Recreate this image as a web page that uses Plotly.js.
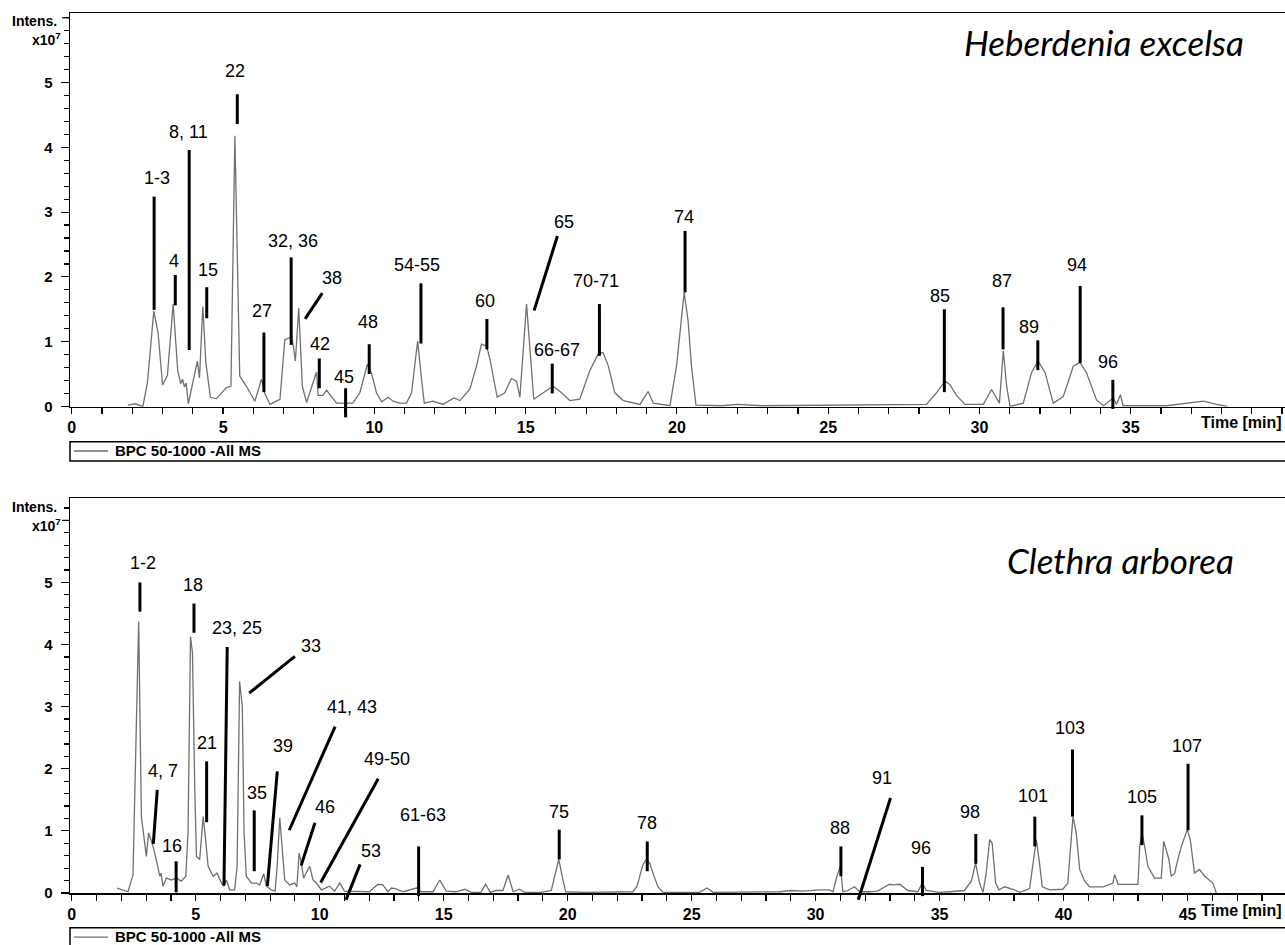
<!DOCTYPE html>
<html>
<head>
<meta charset="utf-8">
<script src="https://cdn.plot.ly/plotly-3.0.1.min.js"></script>
<style>html,body{margin:0;padding:0;background:#fff;}#chart{width:1285px;height:945px;}</style>
</head>
<body>
<div id="chart"></div>
<script>
// ---------- Heberdenia excelsa (top) ----------
const timeHE = [1.85,2.1,2.35,2.5,2.71,2.85,3.0,3.16,3.35,3.5,3.6,3.66,3.72,3.78,3.85,4.15,4.22,4.33,4.43,4.58,4.78,5.11,5.26,5.39,5.55,5.77,6.05,6.27,6.38,6.55,6.88,7.04,7.21,7.3,7.39,7.5,7.62,7.76,8.09,8.14,8.3,8.42,8.58,8.75,9.29,9.52,9.77,9.9,10.07,10.24,10.46,10.62,10.84,11.06,11.23,11.43,11.56,11.65,11.94,12.27,12.63,12.83,13.16,13.38,13.54,13.71,13.82,13.93,14.06,14.31,14.53,14.7,14.81,15.03,15.14,15.27,15.58,15.91,16.19,16.46,16.79,17.12,17.4,17.56,17.73,17.95,18.23,18.78,19.05,19.22,19.77,19.99,20.24,20.37,20.48,20.63,21.5,22.0,22.8,26.7,28.25,28.58,28.86,29.02,29.24,29.52,30.13,30.4,30.55,30.66,30.79,30.9,31.01,31.45,31.72,31.94,32.17,32.44,32.77,33.1,33.32,33.54,33.87,34.1,34.42,34.53,34.66,34.75,36.19,36.8,37.4,37.84,38.2];
const intensHE = [0.02,0.04,0.0,0.37,1.47,1.14,0.33,0.48,1.58,0.55,0.35,0.42,0.3,0.36,0.04,0.70,0.44,1.54,0.68,0.14,0.12,0.29,0.31,4.18,0.47,0.31,0.08,0.42,0.2,0.03,0.11,1.03,1.06,1.0,0.7,1.52,0.31,0.06,0.53,0.17,0.17,0.25,0.15,0.05,0.05,0.21,0.65,0.52,0.21,0.07,0.14,0.08,0.05,0.05,0.21,1.01,0.42,0.05,0.08,0.03,0.13,0.09,0.27,0.63,0.96,0.93,0.73,0.45,0.14,0.21,0.43,0.39,0.14,1.58,0.93,0.11,0.21,0.31,0.21,0.09,0.11,0.55,0.81,0.83,0.63,0.21,0.09,0.03,0.23,0.05,0.01,0.63,1.76,1.32,0.63,0.02,0.01,0.03,0.01,0.03,0.03,0.21,0.39,0.34,0.17,0.03,0.03,0.26,0.13,0.05,0.86,0.31,0.0,0.05,0.52,0.70,0.52,0.05,0.15,0.62,0.68,0.52,0.1,0.01,0.13,0.03,0.18,0.01,0.01,0.05,0.08,0.03,0.0];

// peak labels (text anchor) and marker lines (top end -> bottom end), in minutes / x10^7
const peakLabelsHE = ['1-3','4','8, 11','15','22','27','32, 36','38','42','45','48','54-55','60','65','66-67','70-71','74','85','87','89','94','96'];
const labelTimeHE = [2.81,3.39,3.85,4.51,5.40,6.28,7.30,8.59,8.20,8.98,9.80,11.42,13.66,16.27,16.03,17.33,20.24,28.70,30.74,31.64,33.22,34.26];
const labelIntHE  = [3.53,2.25,4.24,2.11,5.18,1.48,2.56,1.99,0.96,0.46,1.31,2.19,1.63,2.84,0.87,1.93,2.93,1.71,1.94,1.23,2.18,0.68];
const lineTopTimeHE = [2.72,3.42,3.88,4.46,5.47,6.35,7.25,8.28,8.18,9.05,9.83,11.54,13.72,16.05,15.88,17.44,20.27,28.84,30.78,31.93,33.33,34.41];
const lineTopIntHE  = [3.24,2.03,3.96,1.84,4.82,1.14,2.30,1.75,0.74,0.28,0.96,1.90,1.35,2.63,0.66,1.58,2.71,1.50,1.53,1.02,1.86,0.41];
const lineBotTimeHE = [2.72,3.42,3.88,4.46,5.47,6.35,7.25,7.71,8.18,9.05,9.83,11.54,13.72,15.28,15.88,17.44,20.27,28.84,30.78,31.93,33.33,34.41];
const lineBotIntHE  = [1.49,1.56,0.87,1.36,4.36,0.22,0.95,1.35,0.28,-0.17,0.50,0.97,0.88,1.48,0.20,0.78,1.76,0.22,0.88,0.56,0.67,-0.04];

// ---------- Clethra arborea (bottom) ----------
const timeCA = [1.83,2.0,2.27,2.47,2.7,2.81,3.01,3.1,3.28,3.44,3.55,3.6,3.68,3.82,4.02,4.22,4.42,4.6,4.69,4.79,4.87,4.96,5.03,5.16,5.3,5.4,5.5,5.7,5.86,6.04,6.13,6.24,6.37,6.57,6.67,6.77,6.88,6.95,7.04,7.25,7.45,7.58,7.74,7.85,8.05,8.2,8.28,8.39,8.49,8.59,8.79,8.99,9.08,9.17,9.26,9.35,9.49,9.6,9.73,9.87,10.07,10.4,10.6,10.81,11.0,11.48,12.0,12.35,12.55,12.75,12.89,13.05,13.36,13.9,14.1,14.57,14.84,15.1,15.5,15.85,16.12,16.5,16.69,16.88,17.1,17.39,17.6,17.8,18.06,18.27,18.94,19.34,19.48,19.64,19.81,19.92,20.75,21.56,22.63,22.79,23.04,23.17,23.31,23.44,23.64,23.84,25.32,25.62,25.86,28.55,29.0,29.5,30.16,30.56,30.7,30.86,31.0,31.1,31.3,31.57,31.77,32.18,32.5,32.98,33.12,33.39,33.72,34.13,34.3,34.46,35.0,35.4,36.0,36.28,36.45,36.61,36.75,36.88,37.02,37.12,37.26,37.4,37.62,37.96,38.23,38.63,38.9,39.03,39.14,39.44,39.97,40.17,40.38,40.51,40.65,40.85,41.05,41.59,41.99,42.06,42.2,42.53,43.0,43.07,43.16,43.27,43.4,43.67,43.94,44.04,44.14,44.25,44.34,44.48,44.61,44.75,44.99,45.11,45.28,45.48,45.69,45.89,46.02,46.16];
const intensCA = [0.08,0.06,0.02,0.29,4.37,1.23,0.59,0.97,0.75,0.48,0.27,0.32,0.11,0.24,0.21,0.24,0.19,0.27,0.97,4.13,3.86,1.72,0.59,0.54,1.23,0.86,0.43,0.27,0.32,0.16,0.11,0.21,0.05,0.05,0.43,3.41,3.0,0.97,0.27,0.16,0.16,0.13,0.31,0.11,0.05,0.03,0.4,1.21,0.64,0.21,0.13,0.16,0.1,0.64,0.48,0.24,0.35,0.43,0.21,0.16,0.05,0.11,0.03,0.16,0.03,0.02,0.02,0.14,0.13,0.02,0.08,0.07,0.02,0.08,0.02,0.02,0.21,0.03,0.02,0.06,0.01,0.01,0.14,0.01,0.04,0.04,0.29,0.02,0.06,0.01,0.01,0.04,0.27,0.54,0.21,0.02,0.01,0.01,0.02,0.1,0.46,0.54,0.48,0.32,0.1,0.01,0.01,0.08,0.01,0.02,0.04,0.03,0.05,0.05,0.02,0.27,0.43,0.02,0.04,0.1,0.02,0.02,0.03,0.14,0.13,0.14,0.04,0.02,0.17,0.04,0.01,0.02,0.04,0.19,0.48,0.16,0.01,0.32,0.86,0.8,0.16,0.05,0.1,0.06,0.01,0.07,0.86,0.48,0.1,0.05,0.06,0.16,1.23,0.97,0.38,0.19,0.1,0.1,0.16,0.3,0.14,0.14,0.14,0.75,0.97,0.75,0.43,0.24,0.24,0.83,0.7,0.54,0.27,0.32,0.54,0.75,1.02,0.86,0.32,0.38,0.27,0.21,0.16,0.0];

const peakLabelsCA = ['1-2','18','23, 25','33','4, 7','16','21','35','39','41, 43','46','49-50','53','61-63','75','78','88','91','96','98','101','103','105','107'];
const labelTimeCA = [2.86,4.90,6.68,9.64,3.69,4.03,5.47,7.46,8.51,11.29,10.21,12.73,12.06,14.15,19.65,23.19,30.98,32.66,34.27,36.22,38.75,40.25,43.16,44.98];
const labelIntCA  = [5.31,4.96,4.27,3.97,1.96,0.75,2.42,1.61,2.36,3.00,1.39,2.15,0.67,1.26,1.31,1.13,1.05,1.85,0.72,1.30,1.56,2.66,1.55,2.37];
const lineTopTimeCA = [2.75,4.93,6.27,9.00,3.45,4.21,5.44,7.36,8.29,10.62,9.81,12.36,11.63,13.99,19.66,23.21,31.02,33.02,34.31,36.46,38.84,40.36,43.16,45.02];
const lineTopIntCA  = [5.00,4.66,3.96,3.81,1.66,0.51,2.12,1.33,1.96,2.68,1.13,1.84,0.46,0.75,1.02,0.83,0.75,1.53,0.42,0.95,1.23,2.31,1.25,2.08];
const lineBotTimeCA = [2.75,4.93,6.14,7.16,3.29,4.21,5.44,7.36,7.89,8.77,9.25,10.04,11.06,13.99,19.66,23.21,31.02,31.72,34.31,36.46,38.84,40.36,43.16,45.02];
const lineBotIntCA  = [4.53,4.19,0.12,3.22,0.79,0.01,1.14,0.35,0.11,1.01,0.44,0.17,-0.11,-0.05,0.54,0.35,0.27,-0.11,-0.05,0.47,0.75,1.23,0.77,1.01];

const xTicksHE = [0,5,10,15,20,25,30,35];
const xTicksCA = [0,5,10,15,20,25,30,35,40,45];
const yTicks = [0,1,2,3,4,5];

// ---------- layout helpers ----------
const yRangeHE = [-0.005, 6.07];
const yRangeCA = [-0.005, 6.355];
const FONT = 'Liberation Sans, Arial, sans-serif';
const traceColor = '#707070';

function dom(v, r){ return (v - r[0]) / (r[1] - r[0]); }

const traces = [
  {x: timeHE, y: intensHE, xaxis: 'x', yaxis: 'y', type: 'scatter', mode: 'lines',
   line: {color: traceColor, width: 1.3}, hoverinfo: 'skip'},
  {x: timeCA, y: intensCA, xaxis: 'x2', yaxis: 'y2', type: 'scatter', mode: 'lines',
   line: {color: traceColor, width: 1.3}, hoverinfo: 'skip'}
];

const annotations = [];
const shapes = [];

function addPeaks(labels, lt, li, t0, i0, t1, i1, xr, yr, range){
  for (let k = 0; k < labels.length; k++){
    annotations.push({x: lt[k], y: li[k], xref: xr, yref: yr, text: labels[k], showarrow: false,
      xanchor: 'center', yanchor: 'middle', font: {family: FONT, size: 18, color: '#000'}});
    shapes.push({type: 'line', xref: xr, yref: yr + ' domain',
      x0: t0[k], y0: dom(i0[k], range), x1: t1[k], y1: dom(i1[k], range),
      line: {color: '#000', width: 3}});
  }
  // longer major tick at 6 (unlabelled)
  shapes.push({type: 'line', xref: 'paper', yref: yr + ' domain', x0: -8 / 1215, x1: 0,
    y0: dom(6, range), y1: dom(6, range), line: {color: '#000', width: 1.2}});
}
addPeaks(peakLabelsHE, labelTimeHE, labelIntHE, lineTopTimeHE, lineTopIntHE, lineBotTimeHE, lineBotIntHE, 'x', 'y', yRangeHE);
addPeaks(peakLabelsCA, labelTimeCA, labelIntCA, lineTopTimeCA, lineTopIntCA, lineBotTimeCA, lineBotIntCA, 'x2', 'y2', yRangeCA);

// panel decorations (paper coordinates)
const H = 945, W0 = 70, PW = 1215;
function py(p){ return 1 - p / H; }
function px(p){ return (p - W0) / PW; }

const panels = [
  {title: 'Heberdenia excelsa', titleX: 1104, titleY: 42, intY: 20.7, expY: 39.3, timeY: 423, boxTop: 441.7, boxBot: 461, legY: 450.5},
  {title: 'Clethra arborea', titleX: 1120, titleY: 560, intY: 506.7, expY: 525, timeY: 910, boxTop: 927.7, boxBot: 960, legY: 936.7}
];
panels.forEach(p => {
  annotations.push({xref: 'paper', yref: 'paper', x: px(p.titleX), y: py(p.titleY), text: p.title, showarrow: false,
    xanchor: 'center', yanchor: 'middle', font: {family: 'Lato, Open Sans, sans-serif', size: 35, style: 'italic', color: '#000'}});
  annotations.push({xref: 'paper', yref: 'paper', x: px(59), y: py(p.intY), text: 'Intens.', showarrow: false,
    xanchor: 'right', yanchor: 'middle', font: {family: FONT, size: 14, weight: 'bold', color: '#000'}});
  annotations.push({xref: 'paper', yref: 'paper', x: px(63), y: py(p.expY), text: 'x10<sup>7</sup>', showarrow: false,
    xanchor: 'right', yanchor: 'middle', font: {family: FONT, size: 14, weight: 'bold', color: '#000'}});
  annotations.push({xref: 'paper', yref: 'paper', x: px(1284), y: py(p.timeY), text: 'Time [min]', showarrow: false,
    xanchor: 'right', yanchor: 'middle', font: {family: FONT, size: 16, weight: 'bold', color: '#000'}});
  annotations.push({xref: 'paper', yref: 'paper', x: px(113), y: py(p.legY), text: 'BPC 50-1000 -All MS', showarrow: false,
    xanchor: 'left', yanchor: 'middle', font: {family: FONT, size: 15, weight: 'bold', color: '#000'}});
  shapes.push({type: 'rect', xref: 'paper', yref: 'paper', x0: 0, x1: 1.01, y0: py(p.boxBot), y1: py(p.boxTop),
    line: {color: '#000', width: 1.5}, fillcolor: 'rgba(0,0,0,0)'});
  shapes.push({type: 'line', xref: 'paper', yref: 'paper', x0: px(74), x1: px(108), y0: py(p.legY + 0.5), y1: py(p.legY + 0.5),
    line: {color: traceColor, width: 1.3}});
});

function xAxis(range, ticks, anchor){
  return {range: range, domain: [0, 1], anchor: anchor, showline: true, linecolor: '#000', linewidth: 1.5, mirror: true,
    showgrid: false, zeroline: false, ticks: 'outside', ticklen: 6, tickwidth: 1.2, tickcolor: '#000',
    tickmode: 'array', tickvals: ticks, ticktext: ticks.map(String),
    tickfont: {family: FONT, size: 16, weight: 'bold', color: '#000'},
    minor: {dtick: 1, tick0: 0, ticks: 'outside', ticklen: 6, tickwidth: 1.2, tickcolor: '#000', showgrid: false}};
}
function yAxis(range, domain, anchor){
  return {range: range, domain: domain, anchor: anchor, showline: true, linecolor: '#000', linewidth: 1.5,
    showgrid: false, zeroline: false, ticks: 'outside', ticklen: 8, tickwidth: 1.2, tickcolor: '#000',
    tickmode: 'array', tickvals: yTicks, ticktext: yTicks.map(String), ticklabelstandoff: 5,
    tickfont: {family: FONT, size: 15, weight: 'bold', color: '#000'},
    minor: {dtick: 0.2, tick0: 0, ticks: 'outside', ticklen: 5, tickwidth: 1.2, tickcolor: '#000', showgrid: false}};
}

const layout = {
  width: 1285, height: 945,
  margin: {l: 70, r: 0, t: 0, b: 0},
  paper_bgcolor: '#fff', plot_bgcolor: '#fff',
  showlegend: false,
  xaxis: xAxis([-0.06, 40.1], xTicksHE, 'y'),
  yaxis: yAxis(yRangeHE, [1 - 406.7 / H, 1 - 13.3 / H], 'x'),
  xaxis2: xAxis([-0.07, 48.93], xTicksCA, 'y2'),
  yaxis2: yAxis(yRangeCA, [1 - 893.3 / H, 1 - 498.3 / H], 'x2'),
  annotations: annotations,
  shapes: shapes
};

Plotly.newPlot('chart', traces, layout, {staticPlot: true, displayModeBar: false});
</script>
</body>
</html>
